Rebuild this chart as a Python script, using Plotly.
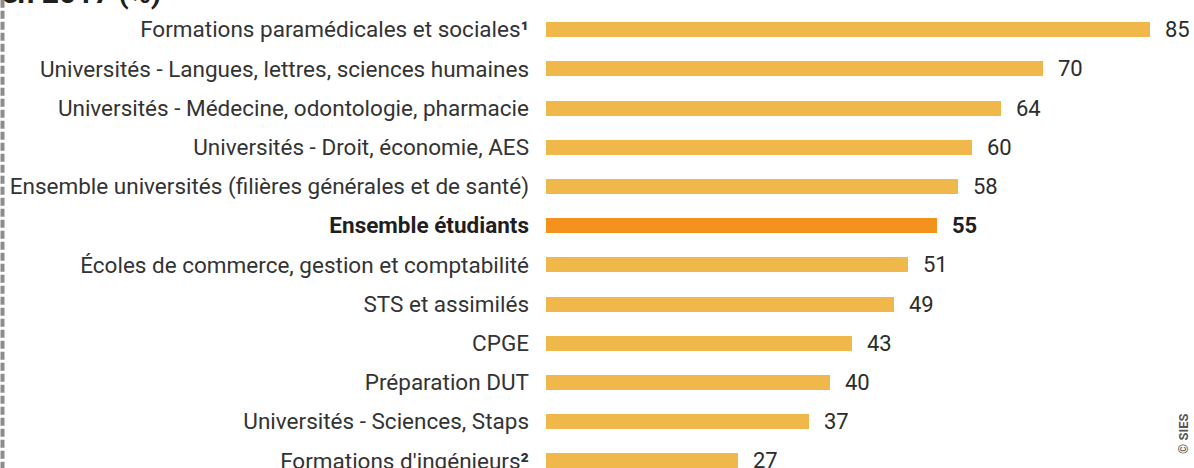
import plotly.graph_objects as go

categories = [
    "Formations paramédicales et sociales¹",
    "Universités - Langues, lettres, sciences humaines",
    "Universités - Médecine, odontologie, pharmacie",
    "Universités - Droit, économie, AES",
    "Ensemble universités (filières générales et de santé)",
    "Ensemble étudiants",
    "Écoles de commerce, gestion et comptabilité",
    "STS et assimilés",
    "CPGE",
    "Préparation DUT",
    "Universités - Sciences, Staps",
    "Formations d'ingénieurs²",
]
values = [85, 70, 64, 60, 58, 55, 51, 49, 43, 40, 37, 27]
highlight = "Ensemble étudiants"

W, H = 1194, 468
L, R, T, B = 546, 0, 10, 0
pw, ph = W - L - R, H - T - B
px_per_unit = 7.106
row_px = 39.2

gold = "#F0B84B"
orange = "#F5921E"
colors = [orange if c == highlight else gold for c in categories]

def tick_label(c):
    t = c.replace("¹", "<b>¹</b>").replace("²", "<b>²</b>")
    if c == highlight:
        return "<b><span style='color:#1f1f1f'>" + c + "</span></b>"
    return t

fig = go.Figure(go.Bar(
    x=values, y=categories, orientation="h",
    marker=dict(color=colors, line=dict(width=0)),
    width=15 / row_px,
    hoverinfo="skip",
))

for c, v in zip(categories, values):
    bold = c == highlight
    fig.add_annotation(
        x=v, y=c, xref="x", yref="y", xanchor="left", yanchor="middle",
        xshift=13, showarrow=False,
        text=("<b>%d</b>" % v) if bold else str(v),
        font=dict(family="Roboto", size=22, color="#1f1f1f" if bold else "#2b2b2b"),
    )

# copyright
fig.add_annotation(
    x=(1183 - L) / pw, y=1 - (434 - T) / ph, xref="paper", yref="paper",
    text="<b>© SIES</b>", textangle=-90, showarrow=False,
    font=dict(family="Roboto", size=13, color="#555555"),
    xanchor="center", yanchor="middle",
)

# cut-off title
fig.add_annotation(
    x=(163 - L) / pw, y=1 + (T - 12) / ph, xref="paper", yref="paper",
    text="<b>Part des étudiants en 2017 (%)</b>", showarrow=False,
    font=dict(family="Roboto", size=30, color="#1f1f1f"),
    xanchor="right", yanchor="bottom",
)

# dashed frame edge on left
xd = (2.5 - L) / pw
fig.add_shape(type="line", xref="paper", yref="paper", x0=xd, x1=xd, y0=-0.1, y1=1.1,
              line=dict(color="#8c8c8c", width=4, dash="8px,3px"))

fig.update_layout(
    width=W, height=H,
    margin=dict(l=L, r=R, t=T, b=B, pad=0, autoexpand=False),
    paper_bgcolor="white", plot_bgcolor="white",
    showlegend=False,
    bargap=0,
    xaxis=dict(range=[0, pw / px_per_unit], visible=False, fixedrange=True,
               automargin=False),
    yaxis=dict(
        categoryorder="array", categoryarray=categories,
        range=[-0.5 + ph / row_px, -0.5],
        tickmode="array", tickvals=categories,
        ticktext=[tick_label(c) for c in categories],
        tickfont=dict(family="Roboto", size=22.5, color="#333333"),
        showgrid=False, zeroline=False, showline=False,
        ticks="", ticklabelstandoff=16, automargin=False, fixedrange=True,
    ),
)

fig.write_html(
    "out.html",
    config={"displayModeBar": False, "staticPlot": True},
    post_script="document.body.style.margin='0';document.body.style.overflow='hidden';",
)
